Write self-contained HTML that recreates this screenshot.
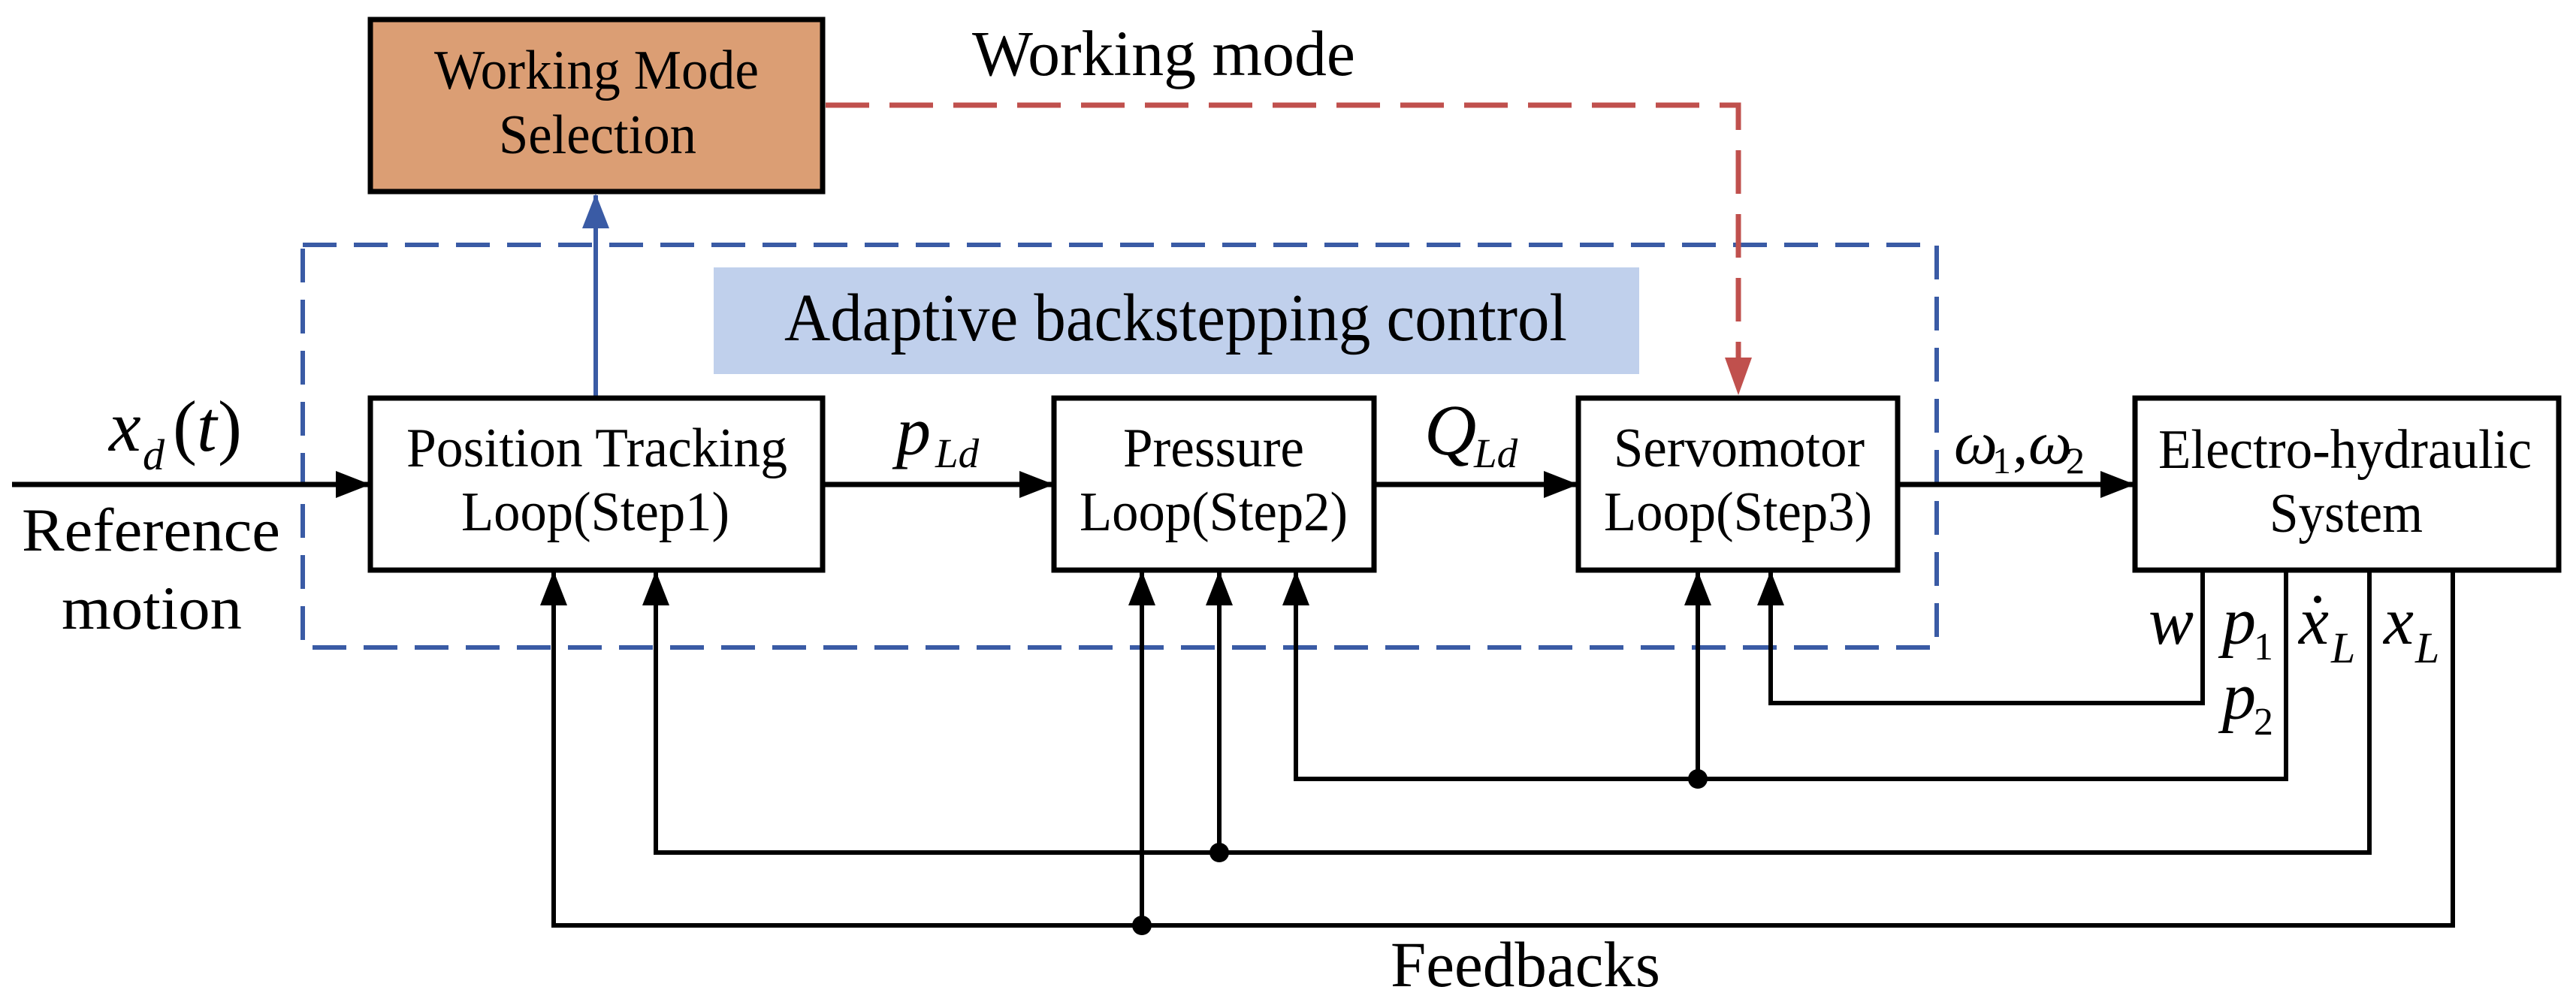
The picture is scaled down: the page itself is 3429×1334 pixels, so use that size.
<!DOCTYPE html>
<html><head><meta charset="utf-8"><style>
html,body{margin:0;padding:0;background:#fff;}
svg{display:block;}
text{font-family:"Liberation Serif","Times New Roman",serif;fill:#000;}
.it{font-style:italic;}
</style></head><body>
<svg width="3429" height="1334" viewBox="0 0 3429 1334" xmlns="http://www.w3.org/2000/svg">
<defs>
<marker id="ab" markerUnits="userSpaceOnUse" markerWidth="46" markerHeight="36" refX="44" refY="18" orient="auto"><path d="M0,0 L46,18 L0,36 Z" fill="#000"/></marker>
<marker id="abl" markerUnits="userSpaceOnUse" markerWidth="46" markerHeight="36" refX="44" refY="18" orient="auto"><path d="M0,0 L46,18 L0,36 Z" fill="#3A5BA5"/></marker>
<marker id="ar" markerUnits="userSpaceOnUse" markerWidth="50" markerHeight="36" refX="48" refY="18" orient="auto"><path d="M0,0 L50,18 L0,36 Z" fill="#C0504D"/></marker>
</defs>

<rect x="950" y="356" width="1232" height="142" fill="#C0D0EC"/>
<text x="1044" y="453" font-size="90" textLength="1042" lengthAdjust="spacingAndGlyphs">Adaptive backstepping control</text>

<rect x="403" y="326" width="2175" height="536" fill="none" stroke="#3A5BA5" stroke-width="6" stroke-dasharray="45 23"/>

<rect x="493" y="26" width="602" height="229" fill="#DB9E74" stroke="#000" stroke-width="7"/>
<text x="578" y="118" font-size="74" textLength="432" lengthAdjust="spacingAndGlyphs">Working Mode</text>
<text x="664" y="204" font-size="74" textLength="263" lengthAdjust="spacingAndGlyphs">Selection</text>

<text x="1294" y="100" font-size="86" textLength="510" lengthAdjust="spacingAndGlyphs">Working mode</text>

<path d="M1099,140 L2314,140 L2314,524" fill="none" stroke="#C0504D" stroke-width="7" stroke-dasharray="58 27" marker-end="url(#ar)"/>

<line x1="793" y1="528" x2="793" y2="260" stroke="#3A5BA5" stroke-width="6" marker-end="url(#abl)"/>

<rect x="493" y="530" width="602" height="229" fill="#fff" stroke="#000" stroke-width="7"/>
<text x="541" y="621" font-size="74" textLength="507" lengthAdjust="spacingAndGlyphs">Position Tracking</text>
<text x="614" y="706" font-size="74" textLength="357" lengthAdjust="spacingAndGlyphs">Loop(Step1)</text>

<rect x="1403" y="530" width="426" height="229" fill="#fff" stroke="#000" stroke-width="7"/>
<text x="1495" y="621" font-size="74" textLength="241" lengthAdjust="spacingAndGlyphs">Pressure</text>
<text x="1437" y="706" font-size="74" textLength="357" lengthAdjust="spacingAndGlyphs">Loop(Step2)</text>

<rect x="2101" y="530" width="425" height="229" fill="#fff" stroke="#000" stroke-width="7"/>
<text x="2148" y="621" font-size="74" textLength="334" lengthAdjust="spacingAndGlyphs">Servomotor</text>
<text x="2135" y="706" font-size="74" textLength="357" lengthAdjust="spacingAndGlyphs">Loop(Step3)</text>

<rect x="2842" y="530" width="564" height="229" fill="#fff" stroke="#000" stroke-width="7"/>
<text x="2873" y="623" font-size="74" textLength="497" lengthAdjust="spacingAndGlyphs">Electro-hydraulic</text>
<text x="3021" y="708" font-size="74" textLength="204" lengthAdjust="spacingAndGlyphs">System</text>

<g stroke="#000" stroke-width="7" fill="none">
<line x1="16" y1="645" x2="491" y2="645" marker-end="url(#ab)"/>
<line x1="1098" y1="645" x2="1401" y2="645" marker-end="url(#ab)"/>
<line x1="1832" y1="645" x2="2099" y2="645" marker-end="url(#ab)"/>
<line x1="2529" y1="645" x2="2840" y2="645" marker-end="url(#ab)"/>
</g>

<g stroke="#000" stroke-width="6" fill="none">
<path d="M2932,762 L2932,936 L2357,936 L2357,762" marker-end="url(#ab)"/>
<path d="M3043,762 L3043,1037 L1725,1037 L1725,762" marker-end="url(#ab)"/>
<path d="M2260,1037 L2260,762" marker-end="url(#ab)"/>
<path d="M3154,762 L3154,1135 L873,1135 L873,762" marker-end="url(#ab)"/>
<path d="M1623,1135 L1623,762" marker-end="url(#ab)"/>
<path d="M3265,762 L3265,1232 L737,1232 L737,762" marker-end="url(#ab)"/>
<path d="M1520,1232 L1520,762" marker-end="url(#ab)"/>
</g>
<circle cx="2260" cy="1037" r="13" fill="#000"/>
<circle cx="1623" cy="1135" r="13" fill="#000"/>
<circle cx="1520" cy="1232" r="13" fill="#000"/>

<text x="145" y="600" font-size="96" class="it">x</text>
<text x="190" y="625" font-size="58" class="it">d</text>
<text x="230" y="600" font-size="96">(</text>
<text x="262" y="600" font-size="96" class="it">t</text>
<text x="290" y="600" font-size="96">)</text>
<text x="29" y="733" font-size="82" textLength="344" lengthAdjust="spacingAndGlyphs">Reference</text>
<text x="82" y="837" font-size="82" textLength="240" lengthAdjust="spacingAndGlyphs">motion</text>

<text x="1193" y="605" font-size="92" class="it">p</text>
<text x="1245" y="622" font-size="55" class="it">Ld</text>

<text x="1896" y="605" font-size="96" class="it">Q</text>
<text x="1962" y="622" font-size="55" class="it">Ld</text>

<text x="2601" y="617" font-size="82" class="it">ω</text>
<text x="2652" y="630" font-size="50">1</text>
<text x="2679" y="617" font-size="82">,</text>
<text x="2700" y="617" font-size="82" class="it">ω</text>
<text x="2750" y="630" font-size="50">2</text>

<text x="2860" y="857" font-size="90" class="it">w</text>
<text x="2958" y="857" font-size="90" class="it">p</text>
<text x="3000" y="878" font-size="52">1</text>
<text x="2958" y="957" font-size="90" class="it">p</text>
<text x="3000" y="978" font-size="52">2</text>
<text x="3060" y="857" font-size="90" class="it">x</text>
<circle cx="3085" cy="798" r="5" fill="#000"/>
<text x="3103" y="882" font-size="58" class="it">L</text>
<text x="3173" y="857" font-size="90" class="it">x</text>
<text x="3215" y="882" font-size="58" class="it">L</text>

<text x="1851" y="1313" font-size="86" textLength="359" lengthAdjust="spacingAndGlyphs">Feedbacks</text>
</svg>
</body></html>
